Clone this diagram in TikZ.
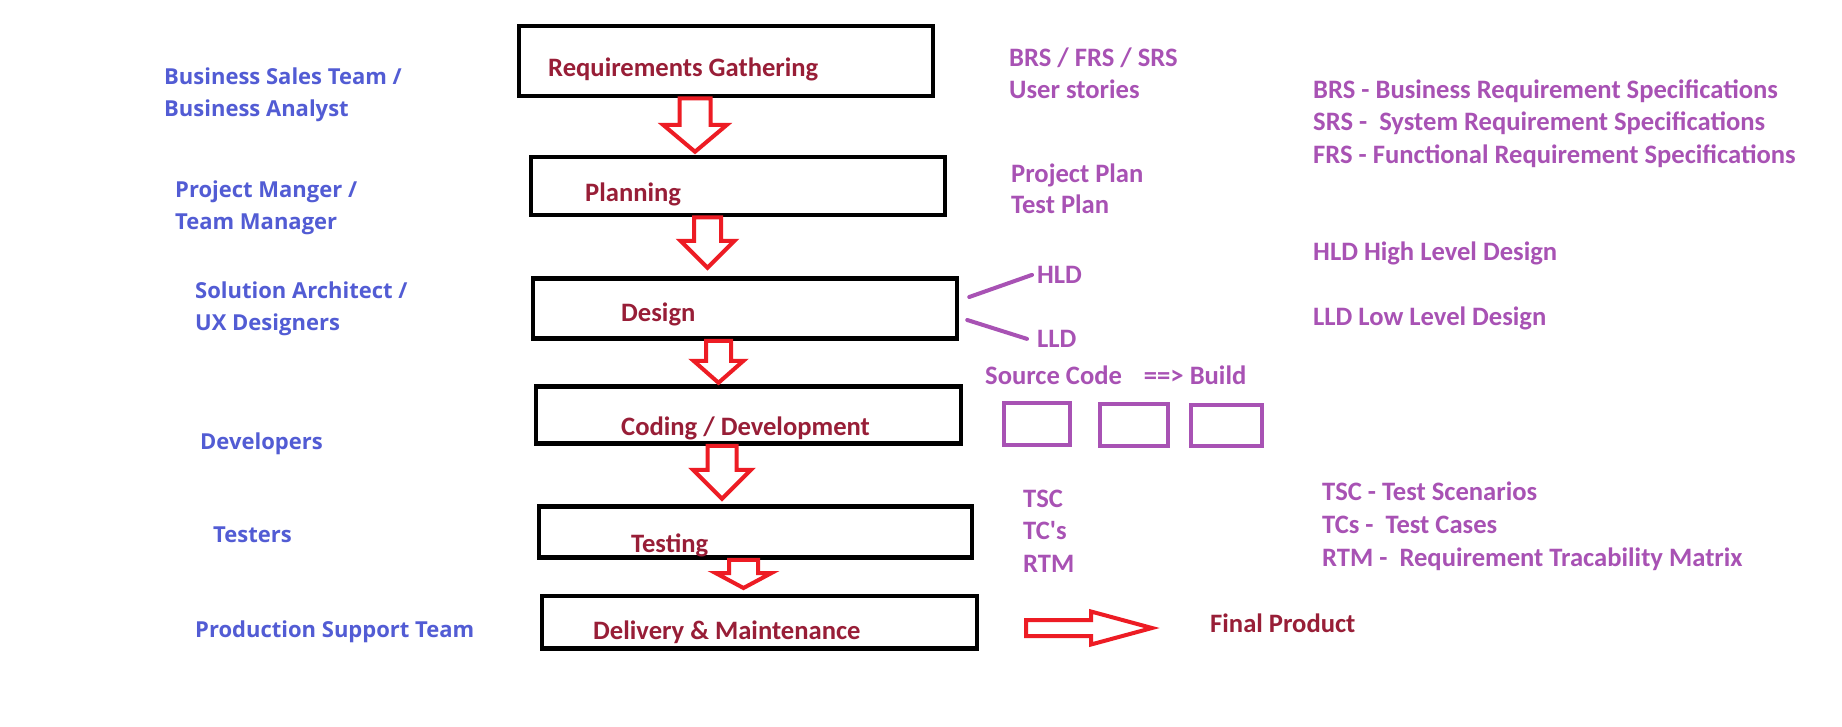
\documentclass[tikz,border=0pt]{standalone}
\usepackage{fontspec}
\setmainfont{Carlito}
\newfontfamily\bluefont{Open Sans}
\usetikzlibrary{calc}
\definecolor{dred}{RGB}{152,30,55}
\definecolor{purp}{RGB}{168,82,180}
\definecolor{blu}{RGB}{82,92,212}
\definecolor{ared}{RGB}{237,28,36}
\tikzset{
  stage/.style={draw=black, line width=4.5pt, inner sep=0pt},
  stagetext/.style={anchor=base west, inner sep=0pt, text=dred, font=\fontsize{26.6}{31}\selectfont\bfseries},
  purptext/.style={anchor=base west, inner sep=0pt, text=purp, font=\fontsize{26.6}{31}\selectfont\bfseries},
  bluetext/.style={anchor=base west, inner sep=0pt, text=blu, font=\fontsize{22}{26}\selectfont\bluefont\bfseries},
  buildbox/.style={draw=purp, line width=4pt, inner sep=0pt},
  blockarrow/.style={draw=ared, line width=4pt, line join=miter},
  purpline/.style={draw=purp, line width=4pt, line cap=round}
}
% hollow block arrow pointing down: src node, dst node, x centre, shaft half width, head half width, head length, gap to dst
\newcommand\blkdown[7]{%
  \draw[blockarrow] let \p1=(#1.south), \p2=(#2.north) in
    (#3pt-#4pt,\y1) -- (#3pt-#4pt,\y2+#7pt+#6pt) -- (#3pt-#5pt,\y2+#7pt+#6pt)
    -- (#3pt,\y2+#7pt) -- (#3pt+#5pt,\y2+#7pt+#6pt) -- (#3pt+#4pt,\y2+#7pt+#6pt)
    -- (#3pt+#4pt,\y1) -- cycle;}
% hollow block arrow pointing right: start coordinate, tip coordinate, shaft half width, head half width, head length
\newcommand\blkright[5]{%
  \draw[blockarrow] let \p1=(#1), \p2=(#2) in
    (\x1,\y1+#3pt) -- (\x2-#5pt,\y1+#3pt) -- (\x2-#5pt,\y1+#4pt) -- (\x2,\y2)
    -- (\x2-#5pt,\y1-#4pt) -- (\x2-#5pt,\y1-#3pt) -- (\x1,\y1-#3pt) -- cycle;}
\begin{document}
\begin{tikzpicture}[x=1pt,y=-1pt]
\useasboundingbox[fill=white] (0,0) rectangle (1842,726);

% stage boxes
\node[stage, minimum width=414pt, minimum height=70pt] (req) at (726,61) {};
\node[stage, minimum width=414pt, minimum height=58pt] (plan) at (738,186) {};
\node[stage, minimum width=424pt, minimum height=60pt] (design) at (745,308.5) {};
\node[stage, minimum width=425pt, minimum height=57pt] (coding) at (748.5,415) {};
\node[stage, minimum width=433pt, minimum height=51pt] (testing) at (755.5,532) {};
\node[stage, minimum width=435pt, minimum height=52.5pt] (delivery) at (759.5,622) {};

% stage texts
\node[stagetext] (reqT) at (548,76) {Requirements Gathering};
\node[stagetext] (planT) at (585,201.5) {Planning};
\node[stagetext] (designT) at (621,321) {Design};
\node[stagetext] (codingT) at (621,435) {Coding / Development};
\node[stagetext] (testingT) at (631,552) {Testing};
\node[stagetext] (deliveryT) at (593,639) {Delivery \& Maintenance};
\node[stagetext] (final) at (1210,632) {Final Product};

% flow arrows
\blkdown{req}{plan}{695}{15.5}{32}{27}{3}
\blkdown{plan}{design}{707.5}{13.5}{27}{27}{8.5}
\blkdown{design}{coding}{718.5}{12.5}{25}{22}{1.5}
\blkdown{coding}{testing}{722}{14.5}{29}{29}{5.5}
\blkdown{testing}{delivery}{743.5}{14.5}{28}{15}{5.5}
\coordinate (outS) at (1026,628);
\coordinate (outT) at (1152,628);
\blkright{outS}{outT}{8}{16.5}{61}

% roles (left)
\node[bluetext] (r1a) at (164,84) {Business Sales Team /};
\node[bluetext] (r1b) at (164,116) {Business Analyst};
\node[bluetext] (r2a) at (175,197) {Project Manger /};
\node[bluetext] (r2b) at (175,229) {Team Manager};
\node[bluetext] (r3a) at (195,298) {Solution Architect /};
\node[bluetext] (r3b) at (195,330) {UX Designers};
\node[bluetext] (r4) at (200,449) {Developers};
\node[bluetext] (r5) at (213,542) {Testers};
\node[bluetext] (r6) at (195,637) {Production Support Team};

% deliverables
\node[purptext] (d1a) at (1009,66.5) {BRS / FRS / SRS};
\node[purptext] (d1b) at (1009,98.5) {User stories};
\node[purptext] (d2a) at (1011,182.5) {Project Plan};
\node[purptext] (d2b) at (1011,213.5) {Test Plan};
\node[purptext] (hld) at (1037,283.5) {HLD};
\node[purptext] (lld) at (1037,347.5) {LLD};
\draw[purpline] ([shift={(10pt,11.5pt)}]design.east) -- ([xshift=-5pt]hld.west);
\draw[purpline] ([shift={(8pt,-11.5pt)}]design.east) -- ([xshift=-10pt]lld.west);
\node[purptext] (src) at (985,384.5) {Source Code\hspace{22pt}==> Build};
\node[buildbox, minimum width=66pt, minimum height=42pt] (bb1) at (1037,424) {};
\node[buildbox, minimum width=68pt, minimum height=42pt] (bb2) at (1134,425) {};
\node[buildbox, minimum width=71pt, minimum height=41pt] (bb3) at (1226.5,425.5) {};
\node[purptext] (d5a) at (1023,507.5) {TSC};
\node[purptext] (d5b) at (1023,539.5) {TC\textquotesingle s};
\node[purptext] (d5c) at (1023,572.5) {RTM};

% glossary (right)
\node[purptext] (g1) at (1313,98.5) {BRS - Business Requirement Specifications};
\node[purptext] (g2) at (1313,130.5) {SRS -~ System Requirement Specifications};
\node[purptext] (g3) at (1313,163.5) {FRS - Functional Requirement Specifications};
\node[purptext] (g4) at (1313,260.5) {HLD High Level Design};
\node[purptext] (g5) at (1313,325.5) {LLD Low Level Design};
\node[purptext] (g6) at (1322,500.5) {TSC - Test Scenarios};
\node[purptext] (g7) at (1322,533.5) {TCs -~ Test Cases};
\node[purptext] (g8) at (1322,566.5) {RTM -~ Requirement Tracability Matrix};
\end{tikzpicture}
\end{document}
